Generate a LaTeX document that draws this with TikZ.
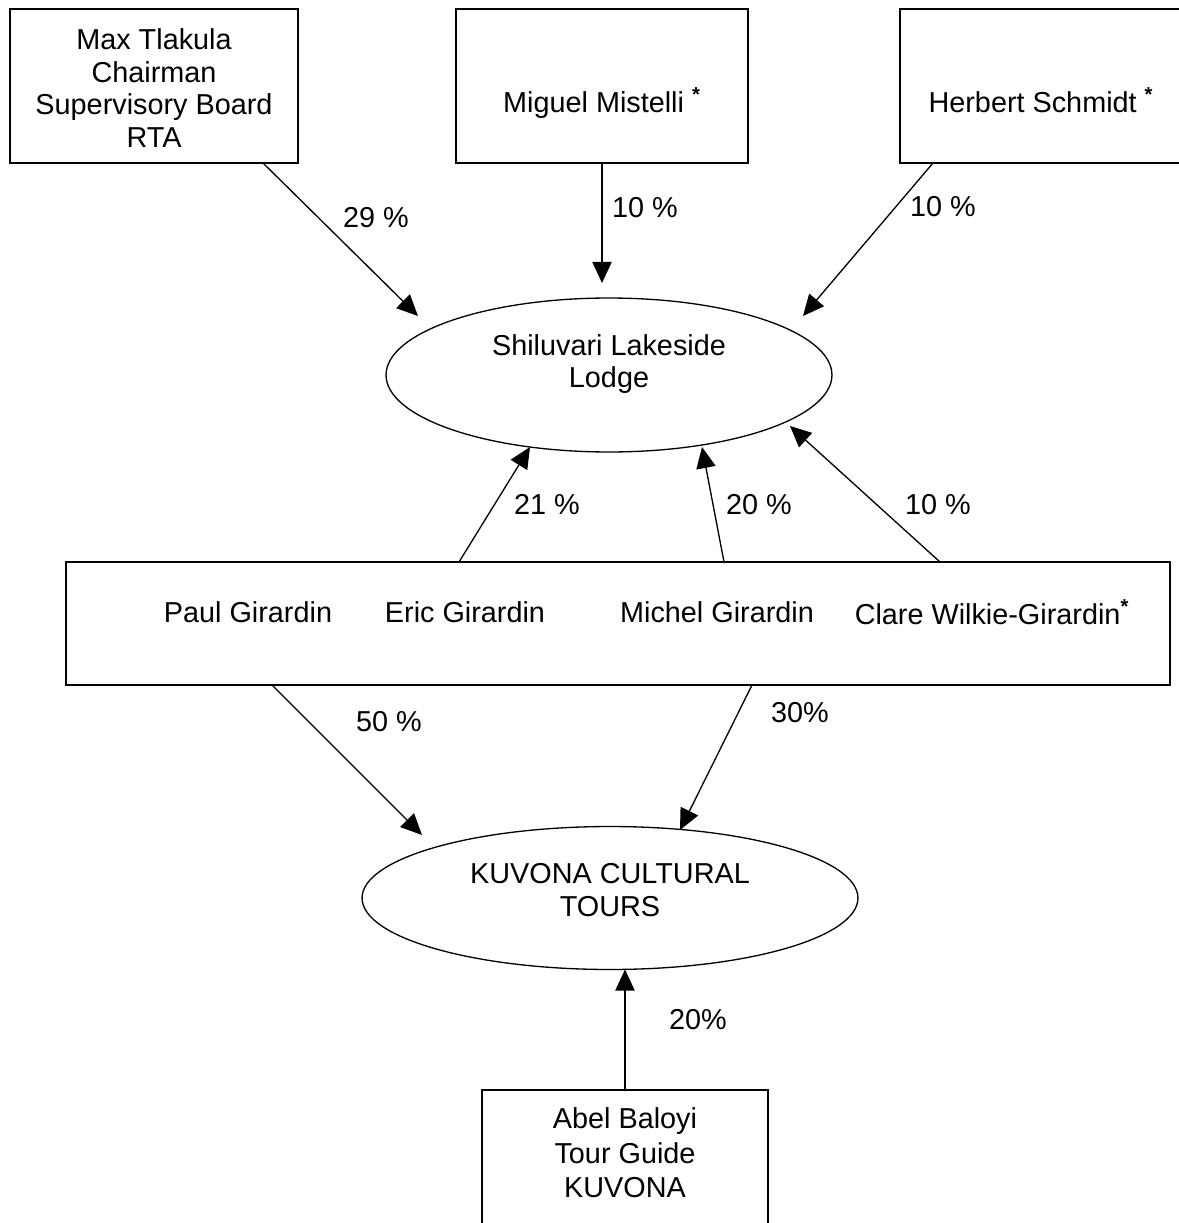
\documentclass[tikz,border=0pt]{standalone}
\usepackage{fontspec}
\setmainfont{Liberation Sans}
\usetikzlibrary{arrows.meta,shapes.geometric}
\newcommand{\starmark}{\textsuperscript{\textbf{*}}}

\tikzset{
  box/.style={draw, line width=0.75pt, inner sep=0pt, outer sep=0pt, align=center},
  oval/.style={draw, ellipse, line width=0.75pt, inner sep=0pt, outer sep=0pt},
  share/.style={-{Triangle[length=12pt,width=11pt]}, line width=0.75pt},
}

\begin{document}
\begin{tikzpicture}[x=0.02cm, y=-0.02cm, font=\fontsize{16.4}{18.7}\selectfont]
    \useasboundingbox (0,0) rectangle (1178,1223);

    % shareholders of the lodge
    \node[box, minimum width=5.76cm, minimum height=3.08cm] (max) at (154,86) {};
    \node[align=center] (maxname) at (154,88) {Max Tlakula\\Chairman\\Supervisory Board\\RTA};
    \node[box, minimum width=5.84cm, minimum height=3.08cm] (miguel) at (602,86) {};
    \node[anchor=base] (miguelname) at (602,113) {Miguel Mistelli \starmark};
    \node[box, minimum width=5.64cm, minimum height=3.08cm] (herbert) at (1041,86) {};
    \node[anchor=base] (herbertname) at (1041,113) {Herbert Schmidt \starmark};

    \node[oval, minimum width=8.92cm, minimum height=3.08cm] (lodge) at (609,375) {};
    \node[align=center] (lodgename) at (609,364) {Shiluvari Lakeside\\Lodge};

    % the family
    \node[box, minimum width=22.08cm, minimum height=2.46cm] (family) at (618,623.5) {};
    \node (paul) at (248,612) {Paul Girardin};
    \node (eric) at (465,612) {Eric Girardin};
    \node (michel) at (717,612) {Michel Girardin};
    \node (clare) at (992,612) {Clare Wilkie-Girardin\starmark};

    \node[oval, minimum width=9.92cm, minimum height=2.86cm] (kuvona) at (610,898) {};
    \node[align=center] (kuvonaname) at (610,890) {KUVONA CULTURAL\\TOURS};

    \node[box, minimum width=5.72cm, minimum height=3.2cm] (abel) at (625,1170) {};
    \node[align=center, font=\fontsize{16.4}{19.6}\selectfont] (abelname) at (625,1153) {Abel Baloyi\\Tour Guide\\KUVONA};

    % arrow ends
    \coordinate (max-out) at (263,163);
    \coordinate (max-in) at (418,316);
    \coordinate (miguel-in) at (602,283);
    \coordinate (herbert-out) at (933,163);
    \coordinate (herbert-in) at (803,316);
    \coordinate (eric-out) at (459,562);
    \coordinate (eric-in) at (530,447);
    \coordinate (michel-out) at (724,562);
    \coordinate (michel-in) at (702,447);
    \coordinate (clare-out) at (940,562);
    \coordinate (clare-in) at (790,426);
    \coordinate (paul-out) at (272,685);
    \coordinate (paul-in) at (422,835);
    \coordinate (michel-down) at (752,685);
    \coordinate (tours-in) at (680,830);

    \draw[share] (max-out) -- (max-in);
    \draw[share] (miguel.south) -- (miguel-in);
    \draw[share] (herbert-out) -- (herbert-in);
    \draw[share] (eric-out) -- (eric-in);
    \draw[share] (michel-out) -- (michel-in);
    \draw[share] (clare-out) -- (clare-in);
    \draw[share] (paul-out) -- (paul-in);
    \draw[share] (michel-down) -- (tours-in);
    \draw[share] (abel.north) -- (abel.north |- kuvona.south);

    % percentages
    \node (p29) at (376,218) {29 \%};
    \node (p10a) at (645,208) {10 \%};
    \node (p10b) at (943,207) {10 \%};
    \node (p21) at (547,505) {21 \%};
    \node (p20a) at (759,505) {20 \%};
    \node (p10c) at (938,505) {10 \%};
    \node (p50) at (389,722) {50 \%};
    \node (p30) at (800,713) {30\%};
    \node (p20b) at (698,1020) {20\%};
\end{tikzpicture}
\end{document}
